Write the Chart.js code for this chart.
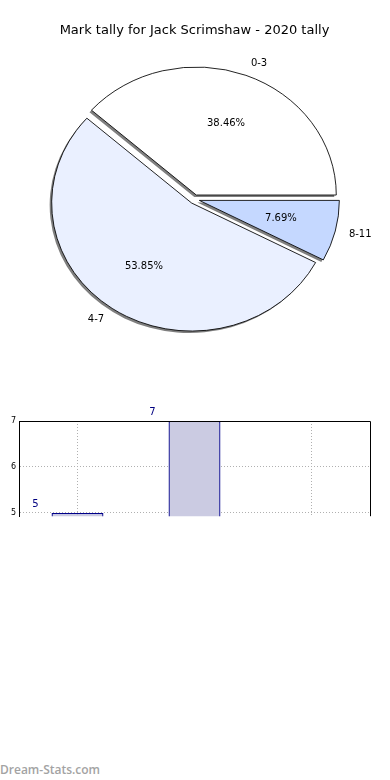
<!DOCTYPE html>
<html>
<head>
<meta charset="utf-8">
<script src="https://cdn.jsdelivr.net/npm/chart.js@4.4.1/dist/chart.umd.min.js"></script>
<style>
  body { margin: 0; background: #fff; width: 390px; height: 780px; position: relative; overflow: hidden; }
  #pieChart { position: absolute; left: 0; top: 0; }
  #barChart { position: absolute; left: 0; top: 400px; }
  .brand { position: absolute; left: 0; top: 761px; font: 600 12px "Open Sans", sans-serif; color: #a3a3a3; }
</style>
</head>
<body>
<canvas id="pieChart" width="390" height="360"></canvas>
<canvas id="barChart" width="390" height="124"></canvas>
<div class="brand">Dream-Stats.com</div>
<script>
// Mark tally data
const categories = ['0-3', '4-7', '8-11'];
const tally = [5, 7, 1];
const yTicks = [5, 6, 7];
const chartTitle = 'Mark tally for Jack Scrimshaw - 2020 tally';

// pie slice fills, matched to categories
const sliceColors = ['#ffffff', '#eaf0ff', '#c5d8ff'];

const FONT = '"DejaVu Sans", sans-serif';
const ELLIPSE = 128 / 140; // the original pie is squashed a bit vertically
const EXPLODE = 5;         // px every slice is pushed out

function midAngle(arc) {
  return (arc.startAngle + arc.endAngle) / 2;
}

function slicePath(ctx, arc) {
  ctx.beginPath();
  ctx.moveTo(arc.x, arc.y);
  ctx.arc(arc.x, arc.y, arc.outerRadius, arc.startAngle, arc.endAngle);
  ctx.closePath();
}

/**
 * Push every slice out by EXPLODE (Chart.js' own offset also grows the
 * radius), squash the pie into an ellipse, lay the grey drop shadow
 * under it, then write the outside labels and inside percentages
 */
const pieDecor = {
  id: 'pieDecor',
  beforeDatasetsDraw(chart) {
    const ctx = chart.ctx;
    const a = chart.chartArea;
    const cx = (a.left + a.right) / 2;
    const cy = (a.top + a.bottom) / 2;
    const arcs = chart.getDatasetMeta(0).data;

    arcs.forEach(arc => {
      const mid = midAngle(arc);
      arc._home = { x: arc.x, y: arc.y };
      arc.x += Math.cos(mid) * EXPLODE;
      arc.y += Math.sin(mid) * EXPLODE;
    });

    // shadow first, so the slices sit on top of it
    ctx.save();
    ctx.translate(-2, 2);
    ctx.translate(cx, cy);
    ctx.scale(1, ELLIPSE);
    ctx.translate(-cx, -cy);
    ctx.fillStyle = 'rgba(0,0,0,0.5)';
    arcs.forEach(arc => {
      slicePath(ctx, arc);
      ctx.fill();
    });
    ctx.restore();

    ctx.save();
    ctx.translate(cx, cy);
    ctx.scale(1, ELLIPSE);
    ctx.translate(-cx, -cy);
  },
  afterDatasetsDraw(chart) {
    const ctx = chart.ctx;
    ctx.restore();
    const arcs = chart.getDatasetMeta(0).data;
    const values = chart.data.datasets[0].data;
    const total = values.reduce((s, v) => s + v, 0);
    ctx.save();
    ctx.fillStyle = '#000';
    ctx.font = '10px ' + FONT;
    ctx.textBaseline = 'middle';
    arcs.forEach((arc, i) => {
      arc.x = arc._home.x;
      arc.y = arc._home.y;
      const mid = midAngle(arc);
      const cos = Math.cos(mid), sin = Math.sin(mid);
      const ox = arc.x + cos * EXPLODE;
      const oy = arc.y + sin * EXPLODE * ELLIPSE;
      const r = arc.outerRadius;

      const pct = (values[i] / total * 100).toFixed(2) + '%';
      ctx.textAlign = 'center';
      ctx.fillText(pct, ox + cos * r * 0.6, oy + sin * r * 0.6 * ELLIPSE);

      ctx.textAlign = cos >= 0 ? 'left' : 'right';
      ctx.fillText(chart.data.labels[i], ox + cos * r * 1.1, oy + sin * r * 1.1 * ELLIPSE);
    });
    ctx.restore();
  }
};

/**
 * Top and right frame lines plus the navy value labels over the bars
 */
const barDecor = {
  id: 'barDecor',
  afterDatasetsDraw(chart) {
    const ctx = chart.ctx;
    const a = chart.chartArea;
    ctx.save();
    ctx.strokeStyle = '#000';
    ctx.lineWidth = 1;
    ctx.beginPath();
    ctx.moveTo(a.left, Math.round(a.top) + 0.5);
    ctx.lineTo(Math.round(a.right) + 0.5, Math.round(a.top) + 0.5);
    ctx.lineTo(Math.round(a.right) + 0.5, a.bottom);
    ctx.stroke();

    const meta = chart.getDatasetMeta(0);
    const xs = chart.scales.x;
    const step = xs.getPixelForValue(1) - xs.getPixelForValue(0);
    ctx.fillStyle = '#000080';
    ctx.font = '10px ' + FONT;
    ctx.textAlign = 'center';
    ctx.textBaseline = 'bottom';
    meta.data.forEach((bar, i) => {
      if (bar.y > a.bottom) return;
      ctx.fillText(String(chart.data.datasets[0].data[i]), bar.x - step * 0.36, bar.y - 4);
    });
    ctx.restore();
  }
};

function createPieChart() {
  const ctx = document.getElementById('pieChart');
  // Chart.js runs clockwise, the original counter-clockwise from 3 o'clock
  const labels = categories.slice().reverse();
  const data = tally.slice().reverse();
  const colors = sliceColors.slice().reverse();

  new Chart(ctx, {
    type: 'pie',
    data: {
      labels: labels,
      datasets: [{
        data: data,
        backgroundColor: colors,
        borderColor: '#000',
        borderWidth: 0.9,
        offset: 0,
        hoverOffset: 0,
        clip: false
      }]
    },
    options: {
      responsive: false,
      animation: false,
      rotation: 90,
      radius: 140,
      layout: { padding: { top: 0, left: 0, right: 1, bottom: 0 } },
      plugins: {
        legend: { display: false },
        tooltip: { enabled: false },
        title: {
          display: true,
          text: chartTitle,
          color: '#000',
          font: { family: FONT, size: 13, weight: 'normal' },
          padding: { top: 23, bottom: 0 }
        }
      }
    },
    plugins: [pieDecor]
  });
}

function createBarChart() {
  const ctx = document.getElementById('barChart');
  new Chart(ctx, {
    type: 'bar',
    data: {
      labels: categories,
      datasets: [{
        data: tally,
        backgroundColor: '#cbcbe2',
        borderColor: '#00008b',
        borderWidth: 1.3,
        barPercentage: 0.444,
        categoryPercentage: 1
      }]
    },
    options: {
      responsive: false,
      animation: false,
      layout: { padding: { top: 21, right: 20, bottom: 1, left: 0 } },
      scales: {
        x: {
          offset: true,
          grid: { offset: false, color: '#b0b0b0', drawTicks: false },
          border: { display: false, dash: [1, 2] },
          ticks: { display: false },
          afterFit: s => { s.height = 0; }
        },
        y: {
          min: 4.93,
          max: 7,
          afterBuildTicks: s => { s.ticks = yTicks.map(v => ({ value: v })); },
          grid: { color: '#b0b0b0', drawTicks: false },
          border: { display: true, color: '#000', width: 1, dash: [1, 2] },
          ticks: { color: '#000', padding: 3, font: { family: FONT, size: 8 } },
          afterFit: s => { s.width = 19; }
        }
      },
      plugins: {
        legend: { display: false },
        tooltip: { enabled: false }
      }
    },
    plugins: [barDecor]
  });
}

createPieChart();
createBarChart();
</script>
</body>
</html>
